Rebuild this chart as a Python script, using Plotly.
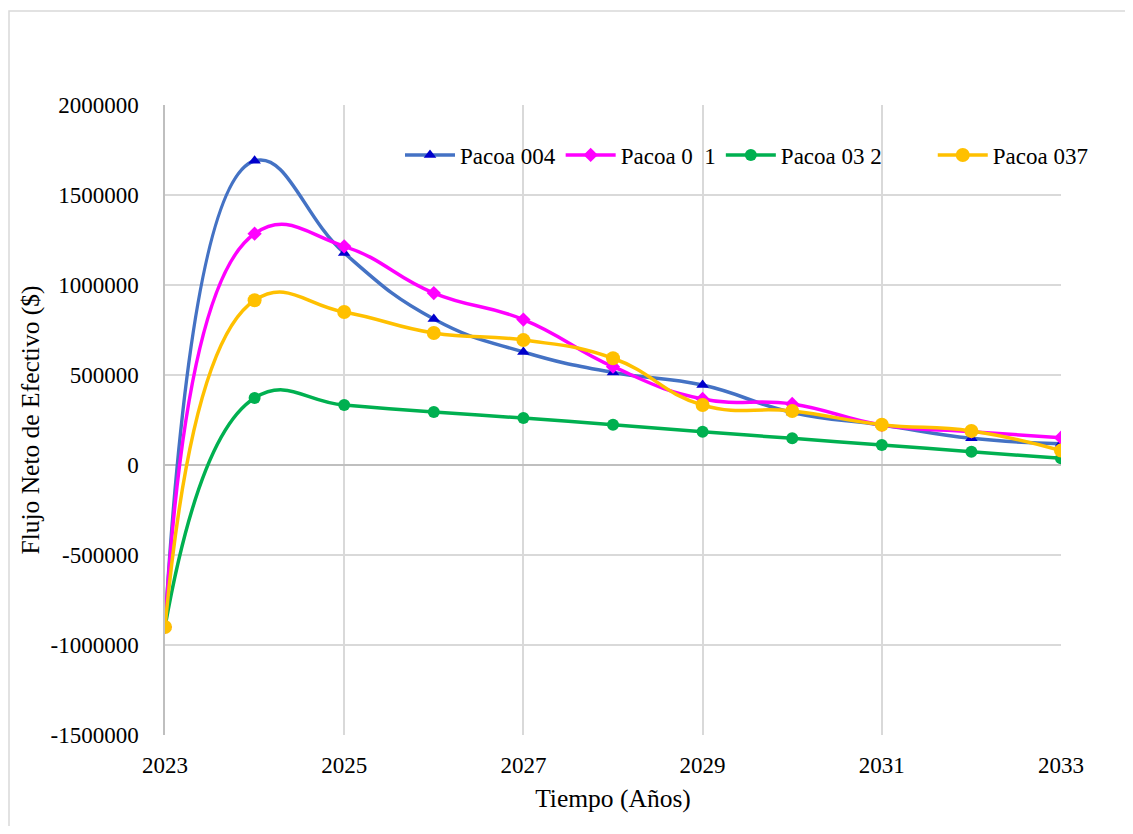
import plotly.graph_objects as go

years = [2023, 2024, 2025, 2026, 2027, 2028, 2029, 2030, 2031, 2032, 2033]
pacoa_004 = [-900000, 1690000, 1178000, 811000, 628000, 514000, 444000, 292000, 222000, 148000, 118000]
pacoa_0_1 = [-900000, 1285000, 1215000, 955000, 808000, 546000, 367000, 339000, 222000, 185000, 152000]
pacoa_032 = [-900000, 372000, 333000, 294000, 261000, 224000, 185000, 148000, 111000, 74000, 37000]
pacoa_037 = [-900000, 915000, 850000, 733000, 694000, 593000, 333000, 300000, 224000, 189000, 80000]

names = ["Pacoa 004", "Pacoa 0\u00a0\u00a01", "Pacoa 03\u00a02\u00a0\u00a0\u00a0\u00a0\u00a0\u00a0\u00a0\u00a0", "Pacoa 037"]
series = [pacoa_004, pacoa_0_1, pacoa_032, pacoa_037]
line_colors = ["#4472C4", "#FF00FF", "#00B050", "#FFC000"]
marker_colors = ["#0000CC", "#FF00FF", "#00B050", "#FFC000"]
symbols = ["triangle-up", "diamond", "circle", "circle"]
msizes = [11, 11, 12, 14]

y_tickvals = [-1500000, -1000000, -500000, 0, 500000, 1000000, 1500000, 2000000]
y_ticktext = [str(v) for v in y_tickvals]

FF = "Liberation Serif"

# figure is placed at (8, 8) in the page (default body margin)
W, H = 1117, 818
L, T = 157, 97
PW, PH = 896, 630
R = W - L - PW
B = H - T - PH

fig = go.Figure()
for name, vals, lc, mc, sym, ms in zip(names, series, line_colors, marker_colors, symbols, msizes):
    fig.add_trace(go.Scatter(
        x=years, y=vals, name=name, mode="lines+markers",
        line=dict(color=lc, width=3.5, shape="spline", smoothing=1.3),
        marker=dict(color=mc, symbol=sym, size=ms),
    ))

fig.update_layout(
    width=W, height=H,
    margin=dict(l=L, r=R, t=T, b=B, autoexpand=False),
    paper_bgcolor="white", plot_bgcolor="white",
    font=dict(family=FF, color="black", size=23),
    showlegend=True,
    legend=dict(
        orientation="h", x=(400 - 165) / PW, y=(735 - 155) / PH, xanchor="left", yanchor="middle",
        font=dict(size=23, family=FF, color="black"), bgcolor="rgba(0,0,0,0)",
        itemwidth=50, tracegroupgap=0,
    ),
    xaxis=dict(
        range=[2023, 2033], tickmode="linear", tick0=2023, dtick=2,
        showgrid=True, gridcolor="#D9D9D9", gridwidth=1.5,
        zeroline=False, showline=False,
        ticks="outside", ticklen=9, tickcolor="rgba(0,0,0,0)",
        tickfont=dict(size=23, family=FF, color="black"),
        title=dict(text="Tiempo (Años)", font=dict(size=25.5, family=FF, color="black"), standoff=12),
    ),
    yaxis=dict(
        range=[-1500000, 2000000], tickmode="array", tickvals=y_tickvals, ticktext=y_ticktext,
        showgrid=True, gridcolor="#D9D9D9", gridwidth=1.5,
        zeroline=True, zerolinecolor="#BFBFBF", zerolinewidth=1.5,
        showline=True, linecolor="#BFBFBF", linewidth=1.5,
        ticks="outside", ticklen=20, tickcolor="rgba(0,0,0,0)",
        tickfont=dict(size=23, family=FF, color="black"),
        title=dict(text="Flujo Neto de Efectivo ($)", font=dict(size=25.5, family=FF, color="black"), standoff=4),
    ),
    shapes=[dict(
        type="rect", xref="paper", yref="paper",
        x0=(1 - L) / PW, x1=(W + 20 - L) / PW,
        y0=(T + PH - (H + 20)) / PH, y1=(T + PH - 3) / PH,
        line=dict(color="#D9D9D9", width=1.5), fillcolor="rgba(0,0,0,0)", layer="below",
    )],
)

fig.write_html("out.html")
